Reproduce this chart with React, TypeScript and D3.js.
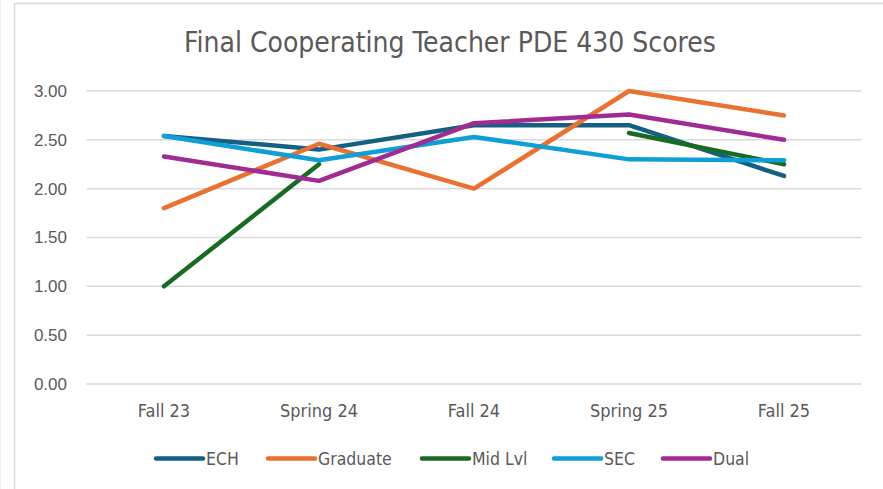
import React from "react";
import * as d3 from "d3";

const categories = ["Fall 23", "Spring 24", "Fall 24", "Spring 25", "Fall 25"];
const yTicks = [0, 0.5, 1, 1.5, 2, 2.5, 3];
const seriesNames = ["ECH", "Graduate", "Mid Lvl", "SEC", "Dual"];
const ech = [2.54, 2.4, 2.65, 2.65, 2.13];
const graduate = [1.8, 2.46, 2.0, 3.0, 2.75];
const midLvl: (number | null)[] = [1.0, 2.25, null, 2.57, 2.25];
const sec = [2.54, 2.29, 2.53, 2.3, 2.29];
const dual = [2.33, 2.08, 2.67, 2.76, 2.5];
const colors = ["#156082", "#E97132", "#196B24", "#0F9ED5", "#A02B93"];
const title = "Final Cooperating Teacher PDE 430 Scores";

const W = 883;
const H = 489;
const plot = { left: 86.5, right: 861.5, top: 91, bottom: 384 };
const narrow = "'Liberation Sans Narrow', 'DejaVu Sans Condensed', sans-serif";
const textColor = "#595959";

export default function App() {
  const x = d3.scaleBand<string>().domain(categories).range([plot.left, plot.right]);
  const y = d3.scaleLinear().domain([0, 3]).range([plot.bottom, plot.top]);
  const allSeries = [ech, graduate, midLvl, sec, dual];
  const line = d3
    .line<number | null>()
    .defined((d) => d !== null)
    .x((_, i) => (x(categories[i]) as number) + x.bandwidth() / 2)
    .y((d) => y(d as number));

  const legendX = [154, 266, 420, 552, 661];

  return (
    <svg
      width={W}
      height={H}
      style={{ position: "absolute", left: 0, top: 0, background: "#fff" }}
    >
      <rect x={0} y={0} width={W} height={H} fill="#fff" />
      <line x1={0.5} y1={0} x2={0.5} y2={H} stroke="#eeeeee" strokeWidth={1} />
      <rect x={14.5} y={3.5} width={W} height={H} fill="none" stroke="#d9d9d9" strokeWidth={1.5} />
      <text
        x={450}
        y={52}
        textAnchor="middle"
        fontFamily={narrow}
        fontSize={28}
        fill={textColor}
      >
        {title}
      </text>
      {yTicks.map((t) => (
        <g key={t}>
          <line
            x1={plot.left}
            x2={plot.right}
            y1={y(t)}
            y2={y(t)}
            stroke="#d9d9d9"
            strokeWidth={1.5}
          />
          <text
            x={67}
            y={y(t)}
            dy="0.35em"
            textAnchor="end"
            fontFamily="'Liberation Sans', Arial, sans-serif"
            fontSize={17}
            fill={textColor}
          >
            {t.toFixed(2)}
          </text>
        </g>
      ))}
      {categories.map((c) => (
        <text
          key={c}
          x={(x(c) as number) + x.bandwidth() / 2}
          y={417}
          textAnchor="middle"
          fontFamily={narrow}
          fontSize={18}
          fill={textColor}
        >
          {c}
        </text>
      ))}
      {allSeries.map((s, i) => (
        <path
          key={seriesNames[i]}
          d={line(s) || ""}
          fill="none"
          stroke={colors[i]}
          strokeWidth={4.5}
          strokeLinecap="round"
          strokeLinejoin="round"
        />
      ))}
      {seriesNames.map((n, i) => (
        <g key={n}>
          <line
            x1={legendX[i] + 2}
            x2={legendX[i] + 49}
            y1={458.5}
            y2={458.5}
            stroke={colors[i]}
            strokeWidth={4.5}
            strokeLinecap="round"
          />
          <text
            x={legendX[i] + 52}
            y={464.5}
            fontFamily={narrow}
            fontSize={17.5}
            fill={textColor}
          >
            {n}
          </text>
        </g>
      ))}
    </svg>
  );
}
